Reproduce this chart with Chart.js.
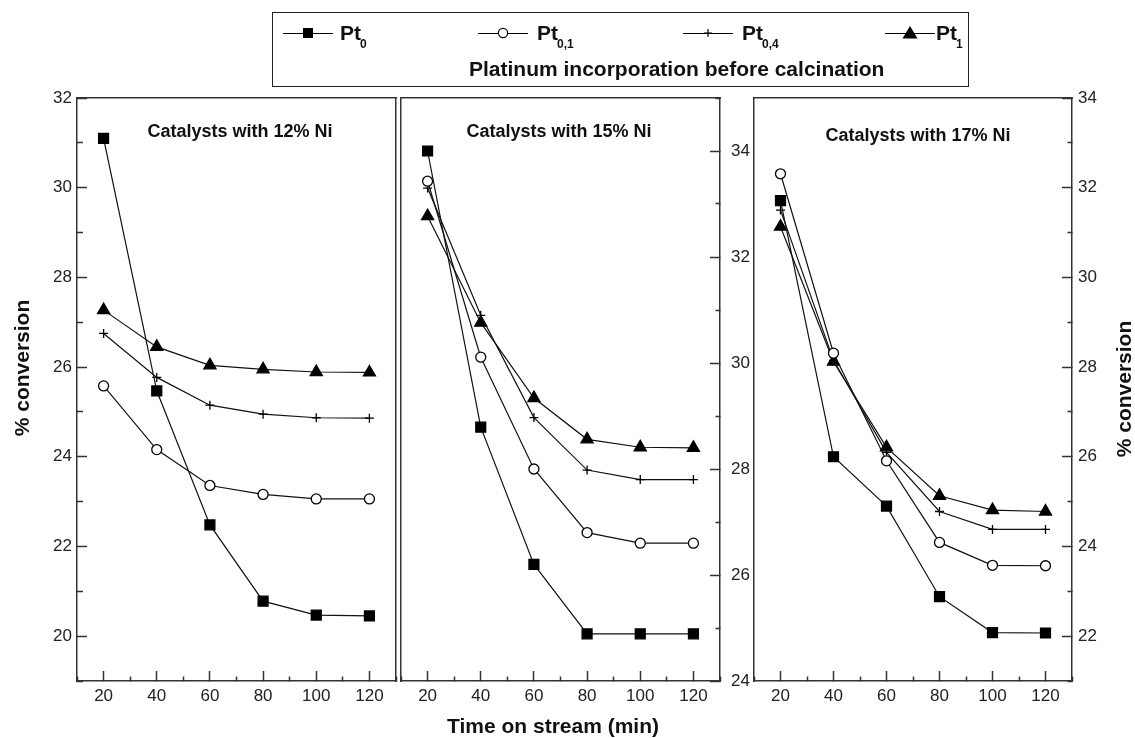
<!DOCTYPE html>
<html>
<head>
<meta charset="utf-8">
<title>Conversion vs time on stream</title>
<script src="https://cdn.jsdelivr.net/npm/chart.js"></script>
<style>
  body { margin: 0; background: #fff; }
  #wrap { position: relative; width: 1135px; height: 738px; overflow: hidden; font-family: "Liberation Sans", Arial, sans-serif; color: #111; }
  #wrap canvas { position: absolute; left: 0; top: 0; }
  .txt { position: absolute; font-weight: bold; white-space: nowrap; }
  .legend-box { position: absolute; left: 272px; top: 12px; width: 695px; height: 73px; border: 1.5px solid #222; }
  .leg-mark { position: absolute; top: 24px; }
  .leg-label { position: absolute; top: 21px; font-size: 21px; line-height: 24px; font-weight: bold; }
  .leg-label sub { font-size: 12px; vertical-align: -7.5px; margin-left: -1px; }
  .rot { position: absolute; width: 300px; height: 24px; line-height: 24px; font-size: 21px; text-align: center; transform: rotate(-90deg); }
</style>
</head>
<body>
<div id="wrap">
  <canvas id="chart" width="1135" height="738"></canvas>
  <canvas id="chart2" width="1135" height="738"></canvas>
  <canvas id="chart3" width="1135" height="738"></canvas>

  <div class="legend-box"></div>
  <div id="legend"></div>
  <div class="txt" style="left:469px; top:57px; width:300px; text-align:center; font-size:21px; line-height:24px;">Platinum incorporation before calcination</div>

  <div class="txt" style="left:90px; top:122px; width:300px; text-align:center; font-size:18px; line-height:18px;">Catalysts with 12% Ni</div>
  <div class="txt" style="left:409px; top:122px; width:300px; text-align:center; font-size:18px; line-height:18px;">Catalysts with 15% Ni</div>
  <div class="txt" style="left:768px; top:126px; width:300px; text-align:center; font-size:18px; line-height:18px;">Catalysts with 17% Ni</div>

  <div class="txt rot" style="left:-128px; top:356px;">% conversion</div>
  <div class="txt rot" style="left:974px; top:377px;">% conversion</div>
  <div class="txt" style="left:403px; top:714px; width:300px; text-align:center; font-size:21px; line-height:24px;">Time on stream (min)</div>
</div>

<script>
// time on stream, min
const times = [20, 40, 60, 80, 100, 120];
const seriesNames = ['Pt0', 'Pt0,1', 'Pt0,4', 'Pt1'];

// catalysts with 12% Ni
const ni12Pt0 = [31.1, 25.47, 22.48, 20.78, 20.47, 20.45];
const ni12Pt01 = [25.58, 24.16, 23.36, 23.16, 23.06, 23.06];
const ni12Pt04 = [26.75, 25.77, 25.15, 24.95, 24.87, 24.86];
const ni12Pt1 = [27.27, 26.45, 26.04, 25.95, 25.89, 25.88];

// catalysts with 15% Ni
const ni15Pt0 = [34.0, 28.79, 26.2, 24.89, 24.89, 24.89];
const ni15Pt01 = [33.43, 30.11, 28.0, 26.8, 26.6, 26.6];
const ni15Pt04 = [33.3, 30.9, 28.97, 27.98, 27.8, 27.8];
const ni15Pt1 = [32.77, 30.76, 29.34, 28.56, 28.41, 28.4];

// catalysts with 17% Ni
const ni17Pt0 = [31.71, 26.0, 24.9, 22.88, 22.08, 22.07];
const ni17Pt01 = [32.31, 28.31, 25.91, 24.09, 23.58, 23.57];
const ni17Pt04 = [31.5, 28.15, 26.1, 24.78, 24.38, 24.38];
const ni17Pt1 = [31.13, 28.12, 26.21, 25.13, 24.81, 24.78];

// y axis ranges of the three panels
const yRange12 = [19, 32];
const yRange15 = [24, 35];
const yRange17 = [21, 34];

const W = 1135, H = 738;
const FONT = '"Liberation Sans", Arial, sans-serif';
const AXIS = '#333';

Chart.defaults.font.family = FONT;
Chart.defaults.color = '#222';

// marker look for each series
const marks = [
  { pointStyle: 'rect', pointRadius: 7, pointBackgroundColor: '#000' },
  { pointStyle: 'circle', pointRadius: 5, pointBackgroundColor: '#fff' },
  { pointStyle: 'cross', pointRadius: 4.5, pointBackgroundColor: '#000' },
  { pointStyle: 'triangle', pointRadius: 7, pointBackgroundColor: '#000' }
];

function makeDatasets(series) {
  return series.map((vals, i) => Object.assign({
    label: seriesNames[i],
    data: vals.map((v, j) => ({ x: times[j], y: v })),
    borderColor: '#111',
    borderWidth: 1.2,
    pointBorderColor: '#000',
    pointBorderWidth: 1.3,
    tension: 0
  }, marks[i]));
}

// plain frame line, no ticks
function frameAxis(position, axis) {
  return {
    type: 'linear', position: position, axis: axis,
    ticks: { display: false },
    grid: { display: false },
    border: { display: true, color: AXIS, width: 1.5 },
    afterFit: s => { if (axis === 'x') s.height = 0; else s.width = 0; }
  };
}

function createPanel(canvas, series, yRange, yPos, box, yWidth, yPad) {
  const xHeight = 40;
  const padding = {
    left: yPos === 'left' ? box.left - yWidth : box.left,
    right: yPos === 'right' ? W - box.right - yWidth : W - box.right,
    top: box.top,
    bottom: H - box.bottom - xHeight
  };
  // minor ticks drawn half length with a dash pattern
  const minorDash = yPos === 'left' ? [0, 4, 7, 40] : [5, 40];

  new Chart(canvas, {
    type: 'line',
    data: { datasets: makeDatasets(series) },
    options: {
      responsive: false,
      animation: false,
      layout: { padding: padding },
      plugins: { legend: { display: false }, tooltip: { enabled: false } },
      scales: {
        x: {
          type: 'linear', position: 'bottom', min: 10, max: 130,
          ticks: {
            stepSize: 10, autoSkip: false, maxRotation: 0, minRotation: 0, padding: 15,
            font: { size: 17 },
            callback: v => v % 20 === 0 ? String(v) : ''
          },
          grid: {
            drawOnChartArea: false, tickLength: -10, tickColor: AXIS, tickWidth: 1.5,
            tickBorderDash: c => (c.tick && c.tick.value % 20 !== 0) ? [5, 40] : []
          },
          border: { display: true, color: AXIS, width: 1.5 },
          afterFit: s => { s.height = xHeight; }
        },
        xTop: Object.assign(frameAxis('top', 'x'), { min: 10, max: 130 }),
        y: {
          type: 'linear', position: yPos, min: yRange[0], max: yRange[1],
          ticks: {
            stepSize: 1, autoSkip: false, padding: yPad,
            font: { size: 17 },
            callback: v => v % 2 === 0 ? String(v) : ''
          },
          grid: {
            drawOnChartArea: false, tickLength: -10, tickColor: AXIS, tickWidth: 1.5,
            tickBorderDash: c => (c.tick && c.tick.value % 2 !== 0) ? minorDash : []
          },
          border: { display: true, color: AXIS, width: 1.5 },
          afterFit: s => { s.width = yWidth; }
        },
        yFrame: frameAxis(yPos === 'left' ? 'right' : 'left', 'y')
      }
    }
  });
}

createPanel(document.querySelector('#chart'), [ni12Pt0, ni12Pt01, ni12Pt04, ni12Pt1], yRange12, 'left',
  { left: 77, right: 396, top: 98, bottom: 681 }, 77, 15);
createPanel(document.querySelector('#chart2'), [ni15Pt0, ni15Pt01, ni15Pt04, ni15Pt1], yRange15, 'right',
  { left: 401, right: 720, top: 98, bottom: 681 }, 34, 21);
createPanel(document.querySelector('#chart3'), [ni17Pt0, ni17Pt01, ni17Pt04, ni17Pt1], yRange17, 'right',
  { left: 754, right: 1072, top: 98, bottom: 681 }, 40, 16);

// legend: line + marker, then Pt with subscript
const legendMarkLeft = [283, 478, 683, 885];
const legendTextLeft = [340, 537, 742, 936];
const legendSubs = ['0', '0,1', '0,4', '1'];
const markerSvg = [
  '<rect x="20" y="4" width="10" height="10" fill="#000"/>',
  '<circle cx="25" cy="9" r="4.6" fill="#fff" stroke="#000" stroke-width="1.2"/>',
  '<path d="M21 9H29M25 5V13" stroke="#000" stroke-width="1.2"/>',
  '<polygon points="25,2 32.5,14.5 17.5,14.5" fill="#000"/>'
];
let html = '';
for (let i = 0; i < 4; i++) {
  html += '<svg class="leg-mark" style="left:' + legendMarkLeft[i] + 'px" width="50" height="18">' +
    '<line x1="0" y1="9.5" x2="50" y2="9.5" stroke="#000" stroke-width="1.2"/>' + markerSvg[i] + '</svg>';
  html += '<div class="leg-label" style="left:' + legendTextLeft[i] + 'px">Pt<sub>' + legendSubs[i] + '</sub></div>';
}
document.querySelector('#legend').innerHTML = html;
</script>
</body>
</html>
